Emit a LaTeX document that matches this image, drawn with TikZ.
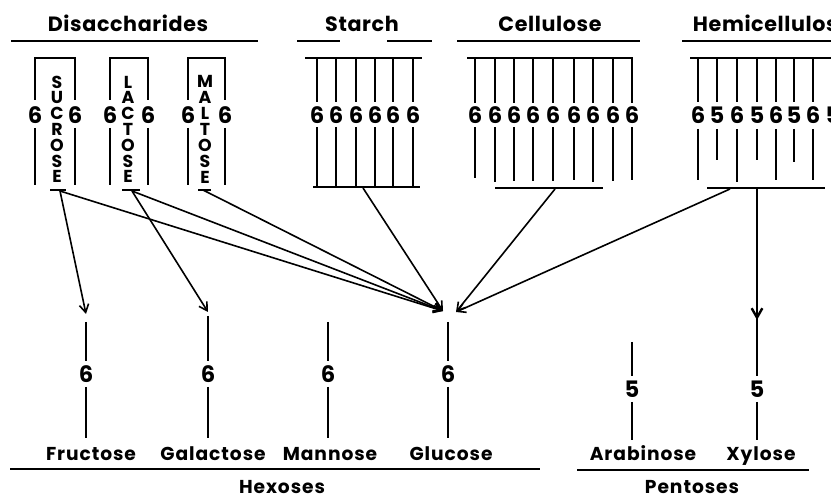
\documentclass[tikz,border=0pt]{standalone}
\usepackage{fontspec}
\setmainfont{Poppins}
\newfontfamily\titf{Poppins}[LetterSpace=3]
\newfontfamily\labf{Poppins}[LetterSpace=5]
\newfontfamily\digf{Poppins}
\usetikzlibrary{arrows.meta}
\begin{document}
\begin{tikzpicture}[x=0.75pt,y=-0.75pt,
  st/.style={line width=1.5pt},
  bar/.style={line width=2pt},
  con/.style={line width=1.2pt},
  arr/.style={con,-{Straight Barb[length=6pt,width=7pt,line width=1.2pt]}},
  ttl/.style={font=\titf\bfseries\fontsize{15.5}{18}\selectfont, inner sep=0pt, anchor=base},
  dig/.style={font=\digf\bfseries\fontsize{17}{18}\selectfont, inner sep=0pt},
  vlet/.style={font=\digf\bfseries\fontsize{13}{14}\selectfont, inner sep=0pt},
  lab/.style={font=\labf\bfseries\fontsize{14}{16}\selectfont, inner sep=0pt, anchor=base}]
\useasboundingbox (0,0) rectangle (831,498);

% ---------- titles ----------
\node[ttl] (tdis) at (128,32) {Disaccharides};
\node[ttl] (tsta) at (362,32) {Starch};
\node[ttl] (tcel) at (550,32) {Cellulose};
\node[ttl] (themi) at (772,32) {Hemicellulose};
\draw[bar] (11,41) -- (258,41);
\draw[bar] (297,41) -- (340,41);
\draw[bar] (387,41) -- (432,41);
\draw[bar] (457,41) -- (640,41);
\draw[bar] (682,41) -- (831,41);

% ---------- disaccharides ----------
\foreach \l/\r/\m/\w/\bl/\br in {35/75/57/suc/50/66, 110/148/128/lac/122/140, 188/225/205/mal/198/211}{
  \draw[st] (\l,100) -- (\l,58) -- (\r,58) -- (\r,100);
  \draw[st] (\l,128) -- (\l,185);
  \draw[st] (\r,128) -- (\r,185);
  \node[dig] (\w-dl) at (\l,115) {6};
  \node[dig] (\w-dr) at (\r,115) {6};
  \draw[bar] (\bl,190) -- (\br,190);
}
\foreach \c [count=\i] in {S,U,C,R,O,S,E}
  \node[vlet] (suc-\i) at (57,{82+15.8*(\i-1)}) {\c};
\foreach \c [count=\i] in {L,A,C,T,O,S,E}
  \node[vlet] (lac-\i) at (128,{82+15.8*(\i-1)}) {\c};
\foreach \c [count=\i] in {M,A,L,T,O,S,E}
  \node[vlet] (mal-\i) at (205,{81+16*(\i-1)}) {\c};

% ---------- starch ----------
\draw[bar] (305,58) -- (422,58);
\draw[bar] (313,187) -- (420,187);
\foreach \x [count=\i] in {317,336,356,375,393,413}{
  \draw[st] (\x,58) -- (\x,102);
  \node[dig] (sta-\i) at (\x,115) {6};
  \draw[st] (\x,127) -- (\x,187);
}

% ---------- cellulose ----------
\draw[bar] (467,58) -- (633,58);
\draw[bar] (495,188) -- (603,188);
\foreach \x/\e [count=\i] in {475/178,495/182,514/181,533/181,553/181,574/180,593/182,613/181,632/180}{
  \draw[st] (\x,58) -- (\x,103);
  \node[dig] (cel-\i) at (\x,115) {6};
  \draw[st] (\x,127) -- (\x,\e);
}

% ---------- hemicellulose ----------
\draw[bar] (690,58) -- (840,58);
\draw[bar] (707,188) -- (825,188);
\foreach \x/\d/\e [count=\i] in {698/6/180,717/5/160,737/6/182,757/5/160,776/6/180,794/5/162,813/6/180,833/5/162}{
  \draw[st] (\x,58) -- (\x,102);
  \node[dig] (hem-\i) at (\x,115) {\d};
  \draw[st] (\x,129) -- (\x,\e);
}

% ---------- monosaccharides ----------
\foreach \x/\t/\w in {86/322/fru, 208/316/gal, 328/322/man, 448/322/glu}{
  \draw[st] (\x,\t) -- (\x,361);
  \node[dig] (\w-d) at (\x,374) {6};
  \draw[st] (\x,387) -- (\x,438);
}
\node[lab] (fru) at (91,460) {Fructose};
\node[lab] (gal) at (213,460) {Galactose};
\node[lab] (man) at (330,460) {Mannose};
\node[lab] (glu) at (451,460) {Glucose};

\draw[st] (632,342) -- (632,376);
\node[dig] (ara-d) at (632,389) {5};
\draw[st] (632,402) -- (632,440);
\draw[st] (757,188) -- (757,376);
\node[dig] (xyl-d) at (757,389) {5};
\draw[st] (757,402) -- (757,440);
\node[lab] (ara) at (643,460) {Arabinose};
\node[lab] (xyl) at (761,460) {Xylose};

\draw[bar] (10,469) -- (540,469);
\draw[bar] (577,470) -- (809,470);
\node[lab] (hex) at (282,493) {Hexoses};
\node[lab] (pen) at (692,493) {Pentoses};

% ---------- connectors ----------
\coordinate (sucO) at (60,191);
\coordinate (lacO) at (132,191);
\coordinate (malO) at (203,190);
\coordinate (staO) at (363,188);
\coordinate (celO) at (555,189);
\coordinate (hemO) at (730,189);
\coordinate (hemX) at (757,189);
\coordinate (fruT) at (86,314);
\coordinate (galT) at (208,312);
\coordinate (gluL) at (443,311);
\coordinate (gluR) at (456,312);
\coordinate (xylT) at (757,320);

\draw[arr] (sucO) -- (fruT);
\draw[arr] (lacO) -- (galT);
\draw[arr] (sucO) -- (gluL);
\draw[arr] (lacO) -- (gluL);
\draw[arr] (malO) -- (gluL);
\draw[arr] (staO) -- (gluL);
\draw[arr] (celO) -- (gluR);
\draw[arr] (hemO) -- (gluR);
\draw[con,-{Straight Barb[length=7pt,width=8pt,line width=1.8pt]}] (hemX) -- (xylT);
\end{tikzpicture}
\end{document}
